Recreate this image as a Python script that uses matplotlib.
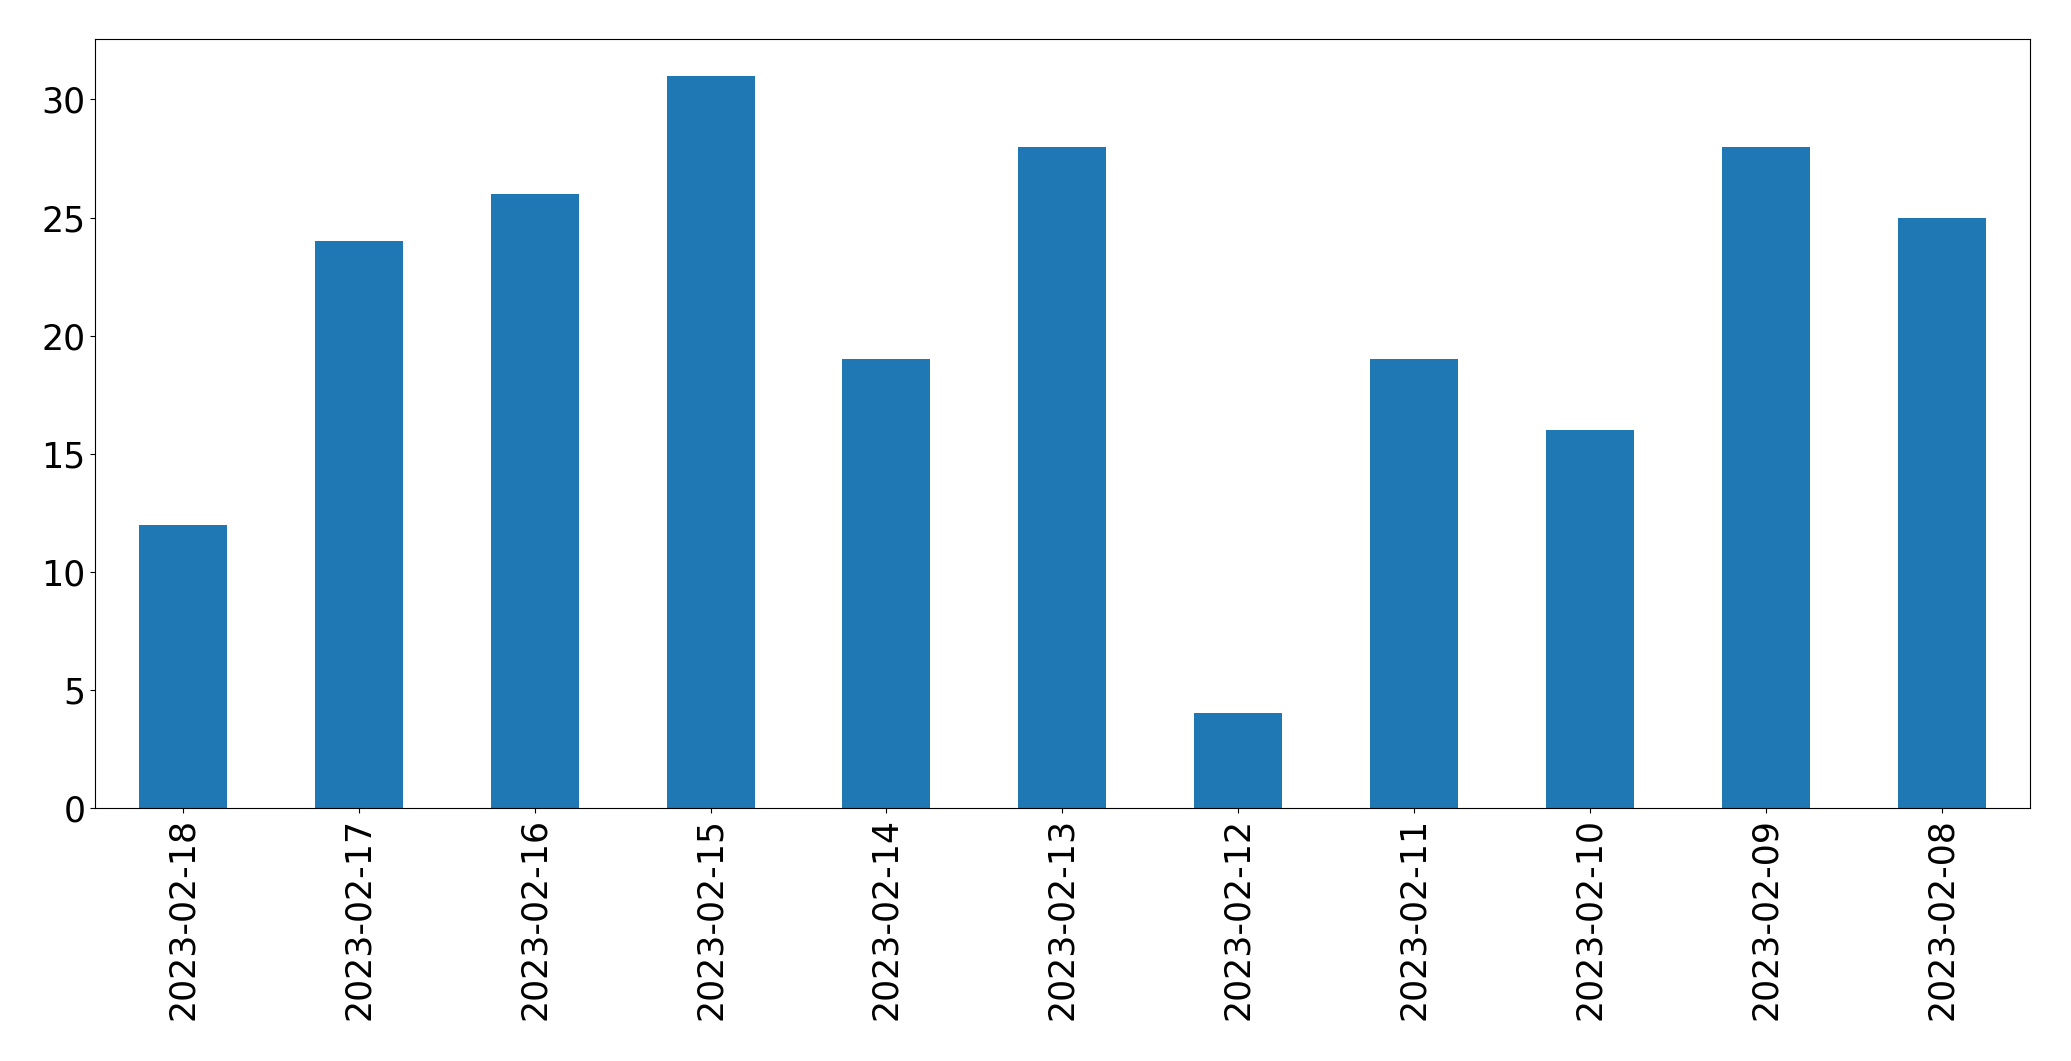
import pandas as pd
import matplotlib
matplotlib.use("Agg")
import matplotlib.pyplot as plt

# ===================================
# Data
# ===================================

dates = [
    "2023-02-18", "2023-02-17", "2023-02-16", "2023-02-15",
    "2023-02-14", "2023-02-13", "2023-02-12", "2023-02-11",
    "2023-02-10", "2023-02-09", "2023-02-08",
]
counts = [12, 24, 26, 31, 19, 28, 4, 19, 16, 28, 25]

s = pd.Series(counts, index=dates)

# ===================================
# Bar Chart
# ===================================

fig = plt.figure(figsize=(20.71, 10.61), dpi=100)
ax = fig.add_axes([0.0459, 0.2385, 0.9341, 0.7245])

s.plot(kind="bar", ax=ax, color="#1f77b4")

ax.tick_params(axis="both", labelsize=25)
ax.set_yticks([0, 5, 10, 15, 20, 25, 30])

fig.savefig("out.png", dpi=100)
